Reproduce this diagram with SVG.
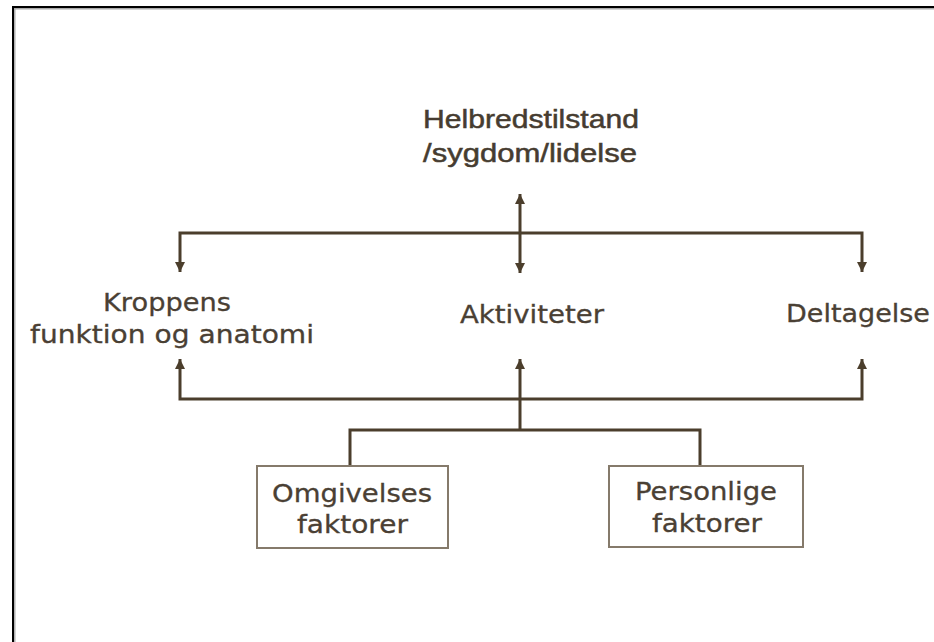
<svg xmlns="http://www.w3.org/2000/svg" width="934" height="642" viewBox="0 0 934 642">
<defs>
<style>
.t{font-family:"DejaVu Sans",Verdana,sans-serif;font-size:25px;fill:#4a4034;stroke:#4a4034;stroke-width:0.3;text-anchor:middle}
.h{font-family:"Liberation Sans",Arial,sans-serif;font-size:26px;fill:#463c30;stroke:#463c30;stroke-width:0.5;text-anchor:middle}
.ln{fill:none;stroke:#4b3e2c;stroke-width:3}
.box{fill:#fff;stroke:#857a6b;stroke-width:2}
</style>
<marker id="ah" viewBox="0 0 10 10" refX="10" refY="5" markerWidth="10" markerHeight="10" markerUnits="userSpaceOnUse" orient="auto-start-reverse">
<path d="M0,0 L10,5 L0,10 z" fill="#4b3e2c"/>
</marker>
</defs>
<rect width="934" height="642" fill="#fff"/>
<g id="frame">
<line x1="12" y1="7" x2="934" y2="7" stroke="#000" stroke-width="2"/>
<line x1="13" y1="6" x2="13" y2="642" stroke="#000" stroke-width="2"/>
<line x1="14" y1="8.8" x2="934" y2="8.8" stroke="#aaa" stroke-width="1.4"/>
<line x1="14.8" y1="8" x2="14.8" y2="642" stroke="#aaa" stroke-width="1.4"/>
</g>
<g id="connectors">
<path class="ln" d="M180,272 V233 H862 V272" marker-start="url(#ah)" marker-end="url(#ah)"/>
<line class="ln" x1="520" y1="194" x2="520" y2="273" marker-start="url(#ah)" marker-end="url(#ah)"/>
<path class="ln" d="M180,359 V399 H862 V359" marker-start="url(#ah)" marker-end="url(#ah)"/>
<line class="ln" x1="520" y1="430" x2="520" y2="359" marker-end="url(#ah)"/>
<path class="ln" d="M350,466 V430 H700 V466"/>
</g>
<g id="helbred">
<text class="h" x="531" y="128" textLength="216" lengthAdjust="spacingAndGlyphs">Helbredstilstand</text>
<text class="h" x="530" y="162" textLength="214" lengthAdjust="spacingAndGlyphs">/sygdom/lidelse</text>
</g>
<g id="kroppens">
<text class="t" x="167" y="311" textLength="128" lengthAdjust="spacingAndGlyphs">Kroppens</text>
<text class="t" x="172" y="343" textLength="284" lengthAdjust="spacingAndGlyphs">funktion og anatomi</text>
</g>
<g id="aktiviteter">
<text class="t" x="532" y="323" textLength="144" lengthAdjust="spacingAndGlyphs">Aktiviteter</text>
</g>
<g id="deltagelse">
<text class="t" x="858" y="322" textLength="144" lengthAdjust="spacingAndGlyphs">Deltagelse</text>
</g>
<g id="omgivelses">
<rect class="box" x="257" y="466" width="191" height="82"/>
<text class="t" x="352" y="502" textLength="160" lengthAdjust="spacingAndGlyphs">Omgivelses</text>
<text class="t" x="352.5" y="533" textLength="111" lengthAdjust="spacingAndGlyphs">faktorer</text>
</g>
<g id="personlige">
<rect class="box" x="609" y="466" width="194" height="81"/>
<text class="t" x="706" y="500" textLength="142" lengthAdjust="spacingAndGlyphs">Personlige</text>
<text class="t" x="707" y="532" textLength="110" lengthAdjust="spacingAndGlyphs">faktorer</text>
</g>
</svg>
